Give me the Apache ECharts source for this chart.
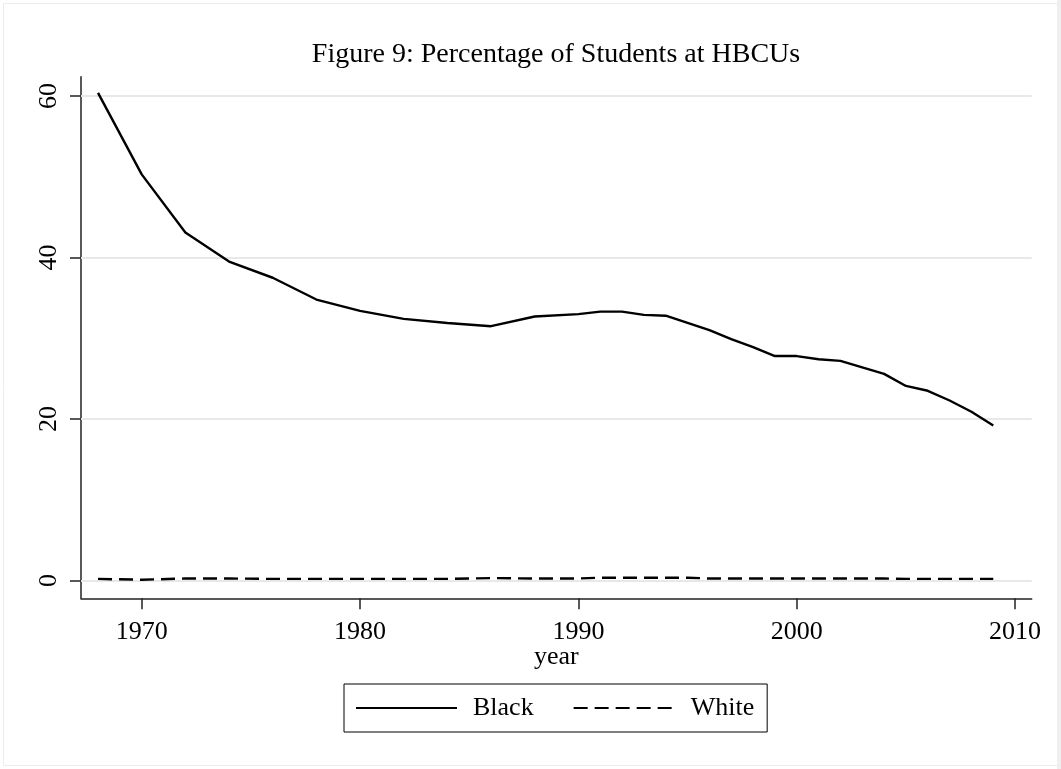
<!DOCTYPE html>
<html>
<head>
<meta charset="utf-8">
<script src="https://cdn.jsdelivr.net/npm/echarts@6/dist/echarts.min.js"></script>
<style>
html,body{margin:0;padding:0;background:#fff;}
#chart{width:1061px;height:769px;}
</style>
</head>
<body>
<div id="chart"></div>
<script>
var years = [1968,1970,1972,1974,1976,1978,1980,1982,1984,1986,1988,1990,1991,1992,1993,1994,1995,1996,1997,1998,1999,2000,2001,2002,2003,2004,2005,2006,2007,2008,2009];
var blackPct = [60.4,50.3,43.1,39.5,37.5,34.8,33.4,32.4,31.9,31.5,32.7,33.0,33.3,33.3,32.9,32.8,31.9,31.0,29.9,28.9,27.8,27.8,27.4,27.2,26.4,25.6,24.1,23.5,22.3,20.9,19.2];
var whitePct = [0.2,0.1,0.25,0.25,0.2,0.2,0.2,0.2,0.2,0.3,0.25,0.25,0.35,0.35,0.35,0.35,0.35,0.25,0.25,0.25,0.25,0.25,0.25,0.25,0.25,0.25,0.2,0.2,0.2,0.2,0.2];
var xTicks = [1970,1980,1990,2000,2010];
var yTicks = [0,20,40,60];
var seriesNames = ['Black','White'];
var titleText = 'Figure 9: Percentage of Students at HBCUs';
var xName = 'year';

function pairs(xs, ys){ return xs.map(function(x,i){ return [x, ys[i]]; }); }

var serif = '"Liberation Serif","DejaVu Serif","Times New Roman",serif';
var chart = echarts.init(document.getElementById('chart'), null, {renderer:'canvas'});
var option = {
  animation:false,
  backgroundColor:'#ffffff',
  graphic:[
    {type:'rect', shape:{x:3.5,y:3.5,width:1060,height:762}, style:{fill:'none', stroke:'#ececec', lineWidth:1}, silent:true, z:-10},
    {type:'rect', shape:{x:1057,y:0,width:4,height:769}, style:{fill:'#efefef'}, silent:true, z:-10}
  ],
  title:{
    text:titleText,
    left:551, textAlign:'center', top:36,
    textStyle:{fontFamily:serif, fontSize:28, fontWeight:'normal', color:'#000'}
  },
  grid:{left:81, right:29.3, top:76.7, bottom:170.7, containLabel:false},
  legend:{
    data:seriesNames,
    left:344, top:684,
    orient:'horizontal',
    itemWidth:101, itemHeight:20, itemGap:39,
    padding:[11,13,11,11],
    borderColor:'#000', borderWidth:1,
    itemStyle:{opacity:0, borderWidth:0},
    textStyle:{fontFamily:serif, fontSize:26, color:'#000', padding:[0,0,0,11]}
  },
  xAxis:{
    type:'value', min:1967.22, max:2010.76,
    name:xName, nameLocation:'middle', nameGap:46, nameMoveOverlap:false,
    nameTextStyle:{fontFamily:serif, fontSize:26, color:'#000'},
    axisLine:{show:true, onZero:false, lineStyle:{color:'#222', width:1.5}},
    axisTick:{show:true, length:11, customValues:xTicks, lineStyle:{color:'#222', width:1.5}},
    axisLabel:{customValues:xTicks, margin:21, fontFamily:serif, fontSize:26, color:'#000',
      formatter:function(v){ return String(Math.round(v)); }},
    splitLine:{show:false}
  },
  yAxis:{
    type:'value', min:-2.2, max:62.4,
    axisLine:{show:true, onZero:false, lineStyle:{color:'#222', width:1.5}},
    axisTick:{show:true, length:11, customValues:yTicks, lineStyle:{color:'#222', width:1.5}},
    axisLabel:{customValues:yTicks, rotate:90, margin:19, fontFamily:serif, fontSize:26, color:'#000'},
    splitLine:{show:false}
  },
  series:[
    {
      name:seriesNames[0], type:'line', data:pairs(years, blackPct),
      symbol:'none', z:3,
      lineStyle:{color:'#000', width:2.4, type:'solid'},
      itemStyle:{color:'#000'},
      markLine:{
        silent:true, symbol:['none','none'], z:1,
        label:{show:false},
        lineStyle:{color:'#e8e8e8', width:2, type:'solid'},
        data:yTicks.map(function(v){ return {yAxis:v}; })
      }
    },
    {
      name:seriesNames[1], type:'line', data:pairs(years, whitePct),
      symbol:'none', z:3,
      lineStyle:{color:'#000', width:2.4, type:[14,7]},
      itemStyle:{color:'#000'}
    }
  ]
};
chart.setOption(option);
</script>
</body>
</html>
